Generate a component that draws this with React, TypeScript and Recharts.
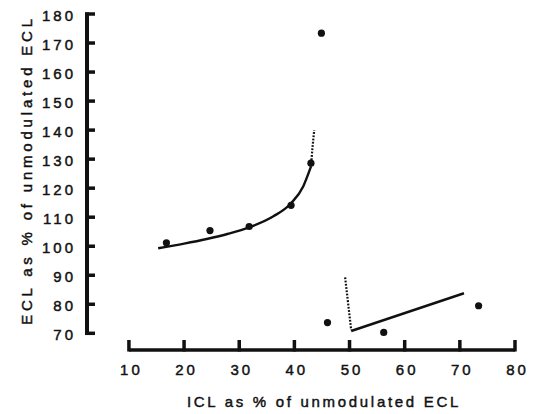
import { ComposedChart, XAxis, YAxis, Scatter, Line, ReferenceLine } from 'recharts';

// axis ranges and ticks
const xDomain = [2.4, 80];
const yDomain = [64.25, 180];
const xTicks = [10, 20, 30, 40, 50, 60, 70, 80];
const yTicks = [70, 80, 90, 100, 110, 120, 130, 140, 150, 160, 170, 180];

// measured points
const pointX = [16.8, 24.7, 31.8, 39.4, 43.0, 44.9, 46.0, 56.2, 73.4];
const pointY = [101.2, 105.4, 106.8, 114.1, 128.6, 173.4, 73.7, 70.3, 79.5];

// fitted curve (solid) and its dotted continuation
const curveX = [15.3, 20.0, 24.1, 28.0, 31.8, 36.2, 39.4, 41.6, 43.0];
const curveY = [99.3, 100.9, 102.5, 104.3, 106.5, 110.3, 114.8, 120.6, 127.4];
const tailX = [43.0, 43.3, 43.6];
const tailY = [127.4, 134.3, 140.0];

// lower branch: dotted drop and solid line
const dropX = [49.2, 50.3];
const dropY = [89.3, 71.1];
const lowX = [50.3, 70.75];
const lowY = [70.8, 83.8];

const zip = (xs: number[], ys: number[]) => xs.map((x, i) => ({ x, y: ys[i] }));

const points = zip(pointX, pointY);
const curve = zip(curveX, curveY);
const tail = zip(tailX, tailY);
const drop = zip(dropX, dropY);
const low = zip(lowX, lowY);

const font = '"Liberation Sans", Arial, sans-serif';
const ink = '#111';
const textStyle = { fontFamily: font, fill: ink, stroke: ink, strokeWidth: 0.45 };

const YTick = (props: any) => {
  const { x, y, payload } = props;
  return (
    <g>
      <line x1={x - 2} x2={x + 8} y1={y} y2={y} stroke={ink} strokeWidth={3.5} />
      <text x={x - 11} y={y + 6.7} textAnchor="end" fontSize={15} letterSpacing={3} style={textStyle}>
        {payload.value}
      </text>
    </g>
  );
};

const XTick = (props: any) => {
  const { x, y, payload } = props;
  return (
    <g>
      <line x1={x} x2={x} y1={y + 1.5} y2={y - 10} stroke={ink} strokeWidth={3.5} />
      <text x={x + 2.5} y={y + 25} textAnchor="middle" fontSize={15} letterSpacing={3} style={textStyle}>
        {payload.value}
      </text>
    </g>
  );
};

const Dot = (props: any) => <circle cx={props.cx} cy={props.cy} r={3.6} fill={ink} />;

export default function App() {
  return (
    <div style={{ position: 'absolute', left: 0, top: 0, width: 534, height: 414, background: '#fff' }}>
      <ComposedChart width={534} height={414} margin={{ top: 14, right: 19, bottom: 34, left: 27 }}>
        <XAxis
          type="number"
          dataKey="x"
          domain={xDomain}
          ticks={xTicks}
          interval={0}
          allowDataOverflow
          axisLine={false}
          tickLine={false}
          tickSize={0}
          tickMargin={0}
          height={30}
          tick={<XTick />}
        />
        <YAxis
          type="number"
          dataKey="y"
          domain={yDomain}
          ticks={yTicks}
          interval={0}
          allowDataOverflow
          axisLine={false}
          tickLine={false}
          tickSize={0}
          tickMargin={0}
          width={60}
          tick={<YTick />}
        />
        <ReferenceLine
          segment={[{ x: xDomain[0], y: 69.4 }, { x: xDomain[0], y: 180.5 }]}
          stroke={ink}
          strokeWidth={4}
          ifOverflow="visible"
        />
        <ReferenceLine
          segment={[{ x: 10, y: yDomain[0] }, { x: 80, y: yDomain[0] }]}
          stroke={ink}
          strokeWidth={3.5}
          ifOverflow="visible"
        />
        <Line data={curve} dataKey="y" type="monotone" stroke={ink} strokeWidth={2.4} dot={false} isAnimationActive={false} />
        <Line data={tail} dataKey="y" type="monotone" stroke={ink} strokeWidth={2.2} strokeDasharray="1.8 1.5" dot={false} isAnimationActive={false} />
        <Line data={drop} dataKey="y" type="linear" stroke={ink} strokeWidth={2.2} strokeDasharray="1.8 1.5" dot={false} isAnimationActive={false} />
        <Line data={low} dataKey="y" type="linear" stroke={ink} strokeWidth={2.4} dot={false} isAnimationActive={false} />
        <Scatter data={points} dataKey="y" shape={<Dot />} isAnimationActive={false} />
      </ComposedChart>
      <svg width={534} height={414} style={{ position: 'absolute', left: 0, top: 0, pointerEvents: 'none' }}>
        <text x={324} y={407} textAnchor="middle" fontSize={15} letterSpacing={2.7} style={textStyle}>
          ICL as % of unmodulated ECL
        </text>
        <text
          transform="translate(32,170) rotate(-90)"
          textAnchor="middle"
          fontSize={15}
          letterSpacing={3.8}
          style={textStyle}
        >
          ECL as % of unmodulated ECL
        </text>
      </svg>
    </div>
  );
}
